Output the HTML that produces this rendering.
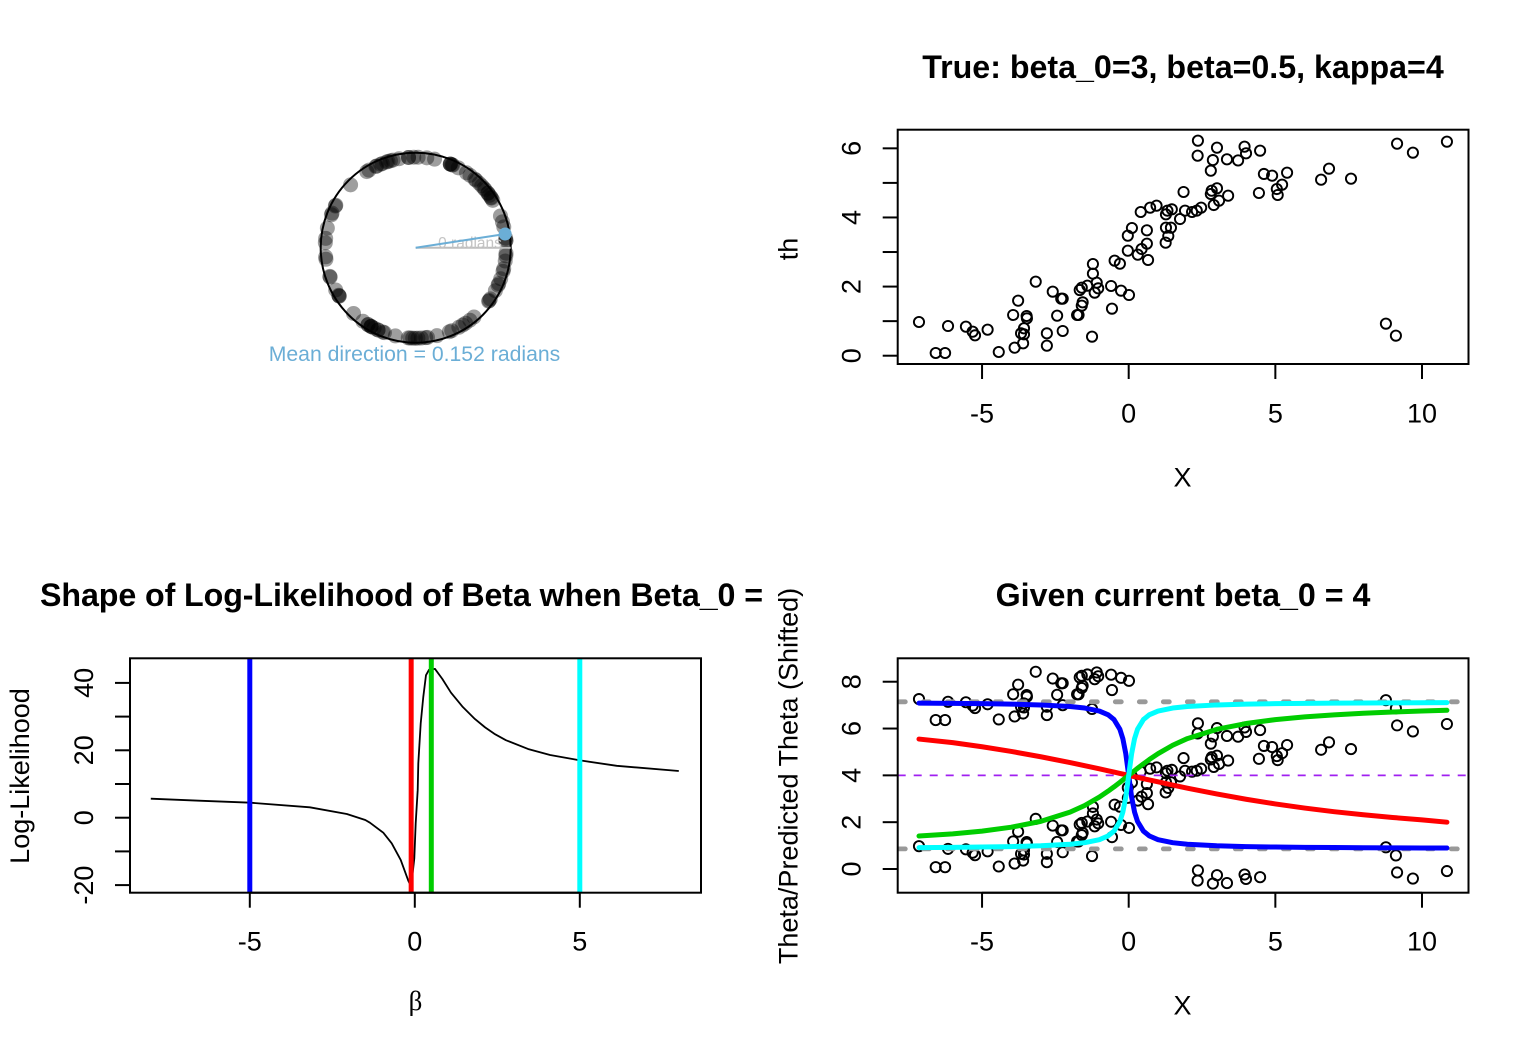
<!DOCTYPE html>
<html lang="en">
<head>
<meta charset="utf-8">
<title>Circular regression diagnostics</title>
<style>
html,body{margin:0;padding:0;background:#fff;}
svg{display:block;}
text{font-family:"Liberation Sans",Arial,sans-serif;fill:#000;}
.tick{font-size:27px;}
.title{font-size:32.2px;font-weight:bold;}
</style>
</head>
<body>
<svg id="figure" xmlns="http://www.w3.org/2000/svg" width="1536" height="1056" viewBox="0 0 1536 1056">
<defs>
<clipPath id="clip-left"><rect x="130" y="658.3" width="571" height="234.4"/></clipPath>
<clipPath id="clip-shift"><rect x="897.7" y="658.3" width="570.8" height="234.4"/></clipPath>
</defs>
<rect width="1536" height="1056" fill="#fff"/>

<g id="circle-panel">
<circle cx="415.7" cy="247.7" r="95" fill="none" stroke="#000" stroke-width="2"/>
<g id="circle-dots"></g>
<line x1="415.7" y1="247.7" x2="510.7" y2="247.7" stroke="#bdbdbd" stroke-width="2"/>
<text x="470" y="248" font-size="15.5" text-anchor="middle" style="fill:#c4c4c4">0 radians</text>
<line id="mean-line" stroke="#6BAED6" stroke-width="2"/>
<circle id="mean-dot" r="6.5" fill="#6BAED6"/>
<text x="414.5" y="361" font-size="21.2" text-anchor="middle" style="fill:#6BAED6">Mean direction = 0.152 radians</text>
</g>

<g id="top-panel">
<text class="title" x="1183" y="78" text-anchor="middle">True: beta_0=3, beta=0.5, kappa=4</text>
<g id="top-points"></g>
<rect x="897.7" y="129.7" width="570.8" height="234.3" fill="none" stroke="#000" stroke-width="2"/>
<g id="top-x-axis"></g>
<g id="top-y-axis"></g>
<text class="tick" x="1182.5" y="486.5" text-anchor="middle">X</text>
<text class="tick" transform="translate(797.3,249) rotate(-90)" text-anchor="middle">th</text>
</g>

<g id="left-panel">
<text class="title" x="40" y="606" textLength="723" lengthAdjust="spacing">Shape of Log-Likelihood of Beta when Beta_0 =</text>
<g clip-path="url(#clip-left)">
<path id="ll-curve" fill="none" stroke="#000" stroke-width="1.8" stroke-linejoin="round"/>
<g id="beta-lines"></g>
</g>
<rect x="130" y="658.3" width="571" height="234.4" fill="none" stroke="#000" stroke-width="2"/>
<g id="left-x-axis"></g>
<g id="left-y-axis"></g>
<text x="415.5" y="1010" font-size="27" text-anchor="middle" style='font-family:"Liberation Serif",serif'>β</text>
<text class="tick" transform="translate(29,776) rotate(-90)" text-anchor="middle">Log-Likelihood</text>
</g>

<g id="shift-panel">
<text class="title" x="1183" y="606" text-anchor="middle">Given current beta_0 = 4</text>
<g clip-path="url(#clip-shift)">
<g id="shift-points"></g>
<g id="guide-lines"></g>
<g id="fit-curves"></g>
</g>
<rect x="897.7" y="658.3" width="570.8" height="234.4" fill="none" stroke="#000" stroke-width="2"/>
<g id="shift-x-axis"></g>
<g id="shift-y-axis"></g>
<text class="tick" x="1182.5" y="1014.5" text-anchor="middle">X</text>
<text class="tick" transform="translate(797.3,776) rotate(-90)" text-anchor="middle">Theta/Predicted Theta (Shifted)</text>
</g>
</svg>

<script>
const xValues = [-7.15,-6.16,-5.55,-5.32,-5.24,-4.81,-6.58,-6.26,-4.43,-3.89,-3.94,-3.77,-3.48,-3.47,-3.57,-3.67,-3.57,-3.60,-2.79,-2.79,-2.44,-2.25,-3.17,-2.59,-2.30,-2.25,-1.76,-1.71,-1.57,-1.60,-1.25,-1.67,-1.60,-1.41,-1.16,-1.09,-1.04,-1.22,-1.22,-0.60,-0.26,0.01,-0.57,-0.48,-0.30,-0.03,0.31,0.44,0.62,0.66,-0.03,0.11,0.62,0.41,0.73,0.95,1.27,1.32,1.47,1.26,1.35,1.27,1.44,1.75,1.92,1.87,2.16,2.32,2.47,2.36,2.35,3.01,2.87,2.80,3.35,3.73,3.95,4.00,4.48,4.61,4.89,5.40,5.23,5.05,4.44,5.08,3.01,2.83,2.80,2.90,3.08,3.39,6.56,6.83,7.58,9.15,9.69,10.85,8.77,9.11];
const thetaValues = [0.975,0.859,0.84,0.695,0.589,0.753,0.078,0.078,0.107,0.232,1.178,1.592,1.149,1.081,0.792,0.647,0.618,0.358,0.647,0.29,1.158,0.715,2.142,1.853,1.65,1.65,1.178,1.178,1.544,1.448,0.551,1.90,1.968,2.026,1.824,2.113,1.949,2.653,2.374,2.017,1.882,1.756,1.361,2.75,2.663,3.039,2.923,3.087,3.242,2.769,3.473,3.695,3.628,4.158,4.283,4.341,4.09,4.197,4.235,3.27,3.464,3.705,3.705,3.955,4.197,4.737,4.158,4.197,4.283,6.222,5.788,6.019,5.66,5.354,5.682,5.65,6.048,5.856,5.933,5.258,5.209,5.296,4.949,4.823,4.708,4.65,4.843,4.775,4.679,4.36,4.486,4.63,5.093,5.412,5.122,6.135,5.875,6.193,0.927,0.58];
const meanDirection = 0.152;
const fullTurn = 6.2832;
const wrapUpLimit = 2.2;
const wrapDownLimit = 5.655;

const xTicks = [-5,0,5,10];
const topYTicks = [0,1,2,3,4,5,6];
const topYLabels = [0,2,4,6];
const shiftYTicks = [0,2,4,6,8];

const betaGrid = [-8,-6.54,-4.98,-3.18,-2.06,-1.5,-1.36,-0.955,-0.7,-0.427,-0.197,-0.11,-0.015,0.027,0.088,0.106,0.179,0.258,0.339,0.43,0.612,0.833,1.097,1.44,1.82,2.13,2.41,2.76,3.43,4.1,5.01,6.12,8];
const logLikValues = [5.64,5.05,4.45,3.08,1.1,-0.68,-1.48,-4.45,-7.6,-12.55,-18.7,-20.4,-12.05,-1.66,8.2,16.14,28,35.9,42.3,43.9,44.15,41.2,37.1,33,29.3,26.8,24.9,23,20.4,18.6,17,15.4,13.86];
const betaMarks = [-5,-0.11,0.5,5];
const betaColors = ["#0000FF","#FF0000","#00CD00","#00FFFF"];
const betaXTicks = [-5,0,5];
const llYTicks = [-20,-10,0,10,20,30,40];
const llYLabels = [-20,0,20,40];

const guideLevels = [7.1416,0.8584];
const currentBeta0 = 4;

const curveX = [-7.15,-6,-5,-4,-3,-2,-1.5,-1,-0.7,-0.5,-0.3,-0.2,-0.1,0,0.1,0.2,0.3,0.5,0.7,1,1.5,2,3,4,5,6,7,8,9,10,10.85];
const blueCurve = [7.085,7.075,7.062,7.042,7.008,6.942,6.876,6.747,6.585,6.381,5.966,5.571,4.927,4,3.073,2.429,2.034,1.619,1.415,1.253,1.124,1.058,0.992,0.958,0.938,0.925,0.916,0.908,0.903,0.898,0.895];
const redCurve = [5.55,5.397,5.221,5.021,4.795,4.546,4.414,4.278,4.195,4.14,4.084,4.056,4.028,4,3.972,3.944,3.916,3.86,3.805,3.722,3.586,3.454,3.205,2.979,2.779,2.603,2.449,2.316,2.2,2.099,2.0];
const greenCurve = [1.409,1.502,1.619,1.786,2.034,2.429,2.713,3.073,3.327,3.51,3.702,3.801,3.9,4,4.1,4.199,4.298,4.49,4.673,4.927,5.287,5.571,5.966,6.214,6.381,6.498,6.585,6.652,6.704,6.747,6.78];
const cyanCurve = [0.915,0.925,0.938,0.958,0.992,1.058,1.124,1.253,1.415,1.619,2.034,2.429,3.073,4,4.927,5.571,5.966,6.381,6.585,6.747,6.876,6.942,7.008,7.042,7.062,7.075,7.084,7.092,7.097,7.102,7.105];

const NS = "http://www.w3.org/2000/svg";
const scatterX = v => 1128.7 + 29.33 * v;
const topY = v => 355.7 - 34.56 * v;
const shiftY = v => 869 - 23.41 * v;
const betaX = v => 414.8 + 33 * v;
const llY = v => 817.7 - 3.37 * v;
const circleX = a => 415.7 + 90.5 * Math.cos(a);
const circleY = a => 247.7 - 90.5 * Math.sin(a);

function make(tag, parent, attrs, text) {
  const el = document.createElementNS(NS, tag);
  for (const k in attrs) el.setAttribute(k, attrs[k]);
  if (text !== undefined) el.textContent = text;
  document.getElementById(parent).appendChild(el);
  return el;
}

function drawXAxis(parent, ticks, scale, y, labelY) {
  const axis = make("line", parent, {x1: scale(ticks[0]), x2: scale(ticks[ticks.length-1]), y1: y, y2: y, stroke: "#000", "stroke-width": 2});
  
  
  ticks.forEach(t => {
    const mark = make("line", parent, {x1: scale(t), x2: scale(t), y1: y, y2: y + 15, stroke: "#000", "stroke-width": 2});
    
    
    const label = make("text", parent, {class: "tick", x: scale(t), y: labelY, "text-anchor": "middle"}, String(t));
    
    
  });
}

function drawYAxis(parent, ticks, labels, scale, x, labelX) {
  ticks.forEach(t => {
    const mark = make("line", parent, {x1: x - 15, x2: x, y1: scale(t), y2: scale(t), stroke: "#000", "stroke-width": 2});
    
    
  });
  labels.forEach(t => {
    const label = make("text", parent, {class: "tick", transform: "translate(" + labelX + "," + scale(t) + ") rotate(-90)", "text-anchor": "middle"}, String(t));
    
    
  });
}

function linePath(xs, ys, fx, fy) {
  return xs.map((v, i) => (i ? "L" : "M") + fx(v).toFixed(2) + " " + fy(ys[i]).toFixed(2)).join("");
}

function shiftPoint(xv, yv) {
  const pt = make("circle", "shift-points", {cx: scatterX(xv).toFixed(2), cy: shiftY(yv).toFixed(2), r: 5.1, fill: "none", stroke: "#000", "stroke-width": 1.9});
  
  
}

/* circular plot */
thetaValues.forEach(a => {
  const dot = make("circle", "circle-dots", {cx: circleX(a).toFixed(2), cy: circleY(a).toFixed(2), r: 7.5, fill: "#000", "fill-opacity": 0.38});
  
  
});
const meanLine = document.getElementById("mean-line");
meanLine.setAttribute("x1", 415.7);
meanLine.setAttribute("y1", 247.7);
meanLine.setAttribute("x2", circleX(meanDirection));
meanLine.setAttribute("y2", circleY(meanDirection));
const meanDot = document.getElementById("mean-dot");
meanDot.setAttribute("cx", circleX(meanDirection));
meanDot.setAttribute("cy", circleY(meanDirection));

/* top scatter */
xValues.forEach((v, i) => {
  const pt = make("circle", "top-points", {cx: scatterX(v).toFixed(2), cy: topY(thetaValues[i]).toFixed(2), r: 5.1, fill: "none", stroke: "#000", "stroke-width": 1.9});
  
  
});
drawXAxis("top-x-axis", xTicks, scatterX, 364, 422.5);
drawYAxis("top-y-axis", topYTicks, topYLabels, topY, 897.7, 860.7);

/* log-likelihood */
document.getElementById("ll-curve").setAttribute("d", linePath(betaGrid, logLikValues, betaX, llY));
betaMarks.forEach((b, i) => {
  const bar = make("line", "beta-lines", {x1: betaX(b), x2: betaX(b), y1: 658, y2: 893, stroke: betaColors[i], "stroke-width": 5});
  
  
});
drawXAxis("left-x-axis", betaXTicks, betaX, 892.7, 950.5);
drawYAxis("left-y-axis", llYTicks, llYLabels, llY, 130, 93);

/* shifted theta panel */
xValues.forEach((v, i) => {
  const t = thetaValues[i];
  shiftPoint(v, t);
  if (t < wrapUpLimit) shiftPoint(v, t + fullTurn);
  if (t > wrapDownLimit) shiftPoint(v, t - fullTurn);
});
guideLevels.forEach(level => {
  const g = make("line", "guide-lines", {x1: 897.7, x2: 1468.5, y1: shiftY(level), y2: shiftY(level), stroke: "#999999", "stroke-width": 4.8, "stroke-linecap": "round", "stroke-dasharray": "6 18", "stroke-dashoffset": -1.6});
  
  
});
const beta0Line = make("line", "guide-lines", {x1: 897.7, x2: 1468.5, y1: shiftY(currentBeta0), y2: shiftY(currentBeta0), stroke: "#A020F0", "stroke-width": 1.8, "stroke-dasharray": "8 8"});



const blueFit = make("path", "fit-curves", {d: linePath(curveX, blueCurve, scatterX, shiftY), fill: "none", stroke: "#0000FF", "stroke-width": 5, "stroke-linecap": "round", "stroke-linejoin": "round"});


const redFit = make("path", "fit-curves", {d: linePath(curveX, redCurve, scatterX, shiftY), fill: "none", stroke: "#FF0000", "stroke-width": 5, "stroke-linecap": "round", "stroke-linejoin": "round"});


const greenFit = make("path", "fit-curves", {d: linePath(curveX, greenCurve, scatterX, shiftY), fill: "none", stroke: "#00CD00", "stroke-width": 5, "stroke-linecap": "round", "stroke-linejoin": "round"});


const cyanFit = make("path", "fit-curves", {d: linePath(curveX, cyanCurve, scatterX, shiftY), fill: "none", stroke: "#00FFFF", "stroke-width": 5, "stroke-linecap": "round", "stroke-linejoin": "round"});



drawXAxis("shift-x-axis", xTicks, scatterX, 892.7, 950.5);
drawYAxis("shift-y-axis", shiftYTicks, shiftYTicks, shiftY, 897.7, 860.7);
</script>
</body>
</html>
